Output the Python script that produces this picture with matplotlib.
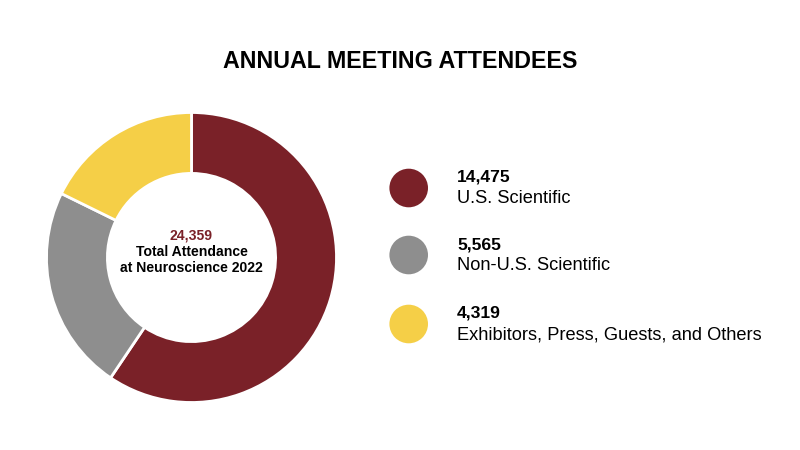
import matplotlib
matplotlib.use("Agg")
import matplotlib.pyplot as plt
from matplotlib.patches import Circle

plt.rcParams['font.family'] = ['Liberation Sans', 'DejaVu Sans']

categories = ["U.S. Scientific", "Non-U.S. Scientific", "Exhibitors, Press, Guests, and Others"]
values = [14475, 5565, 4319]
value_labels = ["14,475", "5,565", "4,319"]
colors = ["#7A2128", "#8E8E8E", "#F5CF47"]
title = "ANNUAL MEETING ATTENDEES"
total_label = "24,359"
center_lines = ["Total Attendance", "at Neuroscience 2022"]

fig = plt.figure(figsize=(8, 4.5), dpi=100)
bg = fig.add_axes([0, 0, 1, 1])
bg.set_xlim(0, 800)
bg.set_ylim(450, 0)
bg.axis("off")

ax = fig.add_axes([46.5/800, (450-402.5)/450, 290/800, 290/450])
ax.pie(values, colors=colors, startangle=90, counterclock=False, radius=1,
       wedgeprops=dict(width=0.42, edgecolor="white", linewidth=2))
ax.set_xlim(-1, 1)
ax.set_ylim(-1, 1)
ax.set_aspect("equal")
ax.set_zorder(0)
bg.set_zorder(1)
bg.patch.set_alpha(0)

bg.text(400, 62, title, ha="center", va="center", fontsize=16.75, fontweight="bold", color="black")
bg.text(191.5, 235, total_label, ha="center", va="center", fontsize=10.1, fontweight="bold", color=colors[0])
bg.text(191.5, 251.5, center_lines[0], ha="center", va="center", fontsize=10.1, fontweight="bold", color="black")
bg.text(191.5, 268, center_lines[1], ha="center", va="center", fontsize=10.1, fontweight="bold", color="black")

for y, c, v, cat in zip([188, 255, 324], colors, value_labels, categories):
    bg.add_patch(Circle((408.7, y), 19.3, color=c, lw=0))
    bg.text(457, y-10.5, v, ha="left", va="center", fontsize=12.6, fontweight="bold", color="black")
    bg.text(457, y+10.5, cat, ha="left", va="center", fontsize=13.15, color="black")

fig.savefig("out.png", dpi=100, facecolor="white")
